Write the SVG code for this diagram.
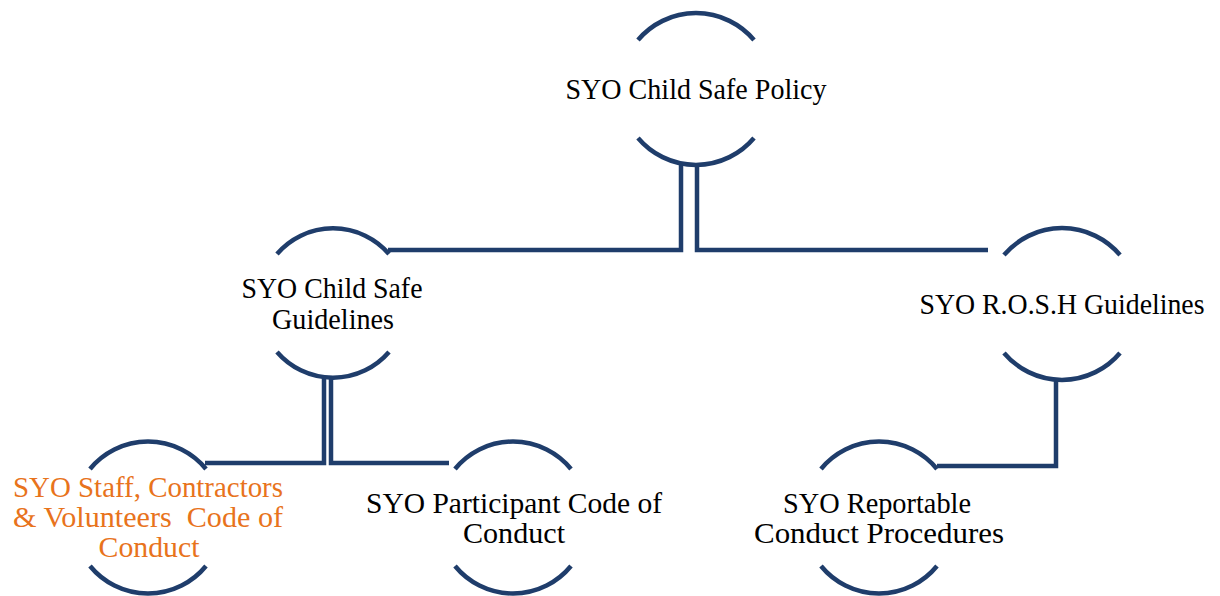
<svg xmlns="http://www.w3.org/2000/svg" width="1220" height="596" viewBox="0 0 1220 596">
<style>
.arc{fill:none;stroke:#1F3D6B;stroke-width:4.5}
.con{fill:none;stroke:#1F3D6B;stroke-width:4.5;stroke-linejoin:miter}
text{font-family:"Liberation Serif","Times New Roman",serif;font-size:29px;fill:#000;text-anchor:middle;white-space:pre}
.or{fill:#E8731C}
</style>
<rect width="1220" height="596" fill="#fff"/>
<g id="connectors">
<path class="con" d="M681,165 V250 H388"/>
<path class="con" d="M697,165 V250 H988"/>
<path class="con" d="M324,377 V463 H205"/>
<path class="con" d="M331,377 V463 H449"/>
<path class="con" d="M1056,380 V466 H937"/>
</g>
<g id="node-policy">
<path class="arc" d="M638,40 A76 76 0 0 1 754,40"/>
<path class="arc" d="M638,138 A76 76 0 0 0 754,138"/>
<text x="696" y="99" textLength="261" lengthAdjust="spacingAndGlyphs">SYO Child Safe Policy</text>
</g>
<g id="node-guidelines">
<path class="arc" d="M277,254 A74 74 0 0 1 389,254"/>
<path class="arc" d="M277,352 A74 74 0 0 0 389,352"/>
<text x="332" y="298" textLength="181" lengthAdjust="spacingAndGlyphs">SYO Child Safe</text>
<text x="333" y="329" textLength="122" lengthAdjust="spacingAndGlyphs">Guidelines</text>
</g>
<g id="node-rosh">
<path class="arc" d="M1004,255 A76 76 0 0 1 1120,255"/>
<path class="arc" d="M1004,353 A76 76 0 0 0 1120,353"/>
<text x="1062" y="314" textLength="285" lengthAdjust="spacingAndGlyphs">SYO R.O.S.H Guidelines</text>
</g>
<g id="node-staff">
<path class="arc" d="M90,469 A75 75 0 0 1 206,469"/>
<path class="arc" d="M90,566 A75 75 0 0 0 206,566"/>
<text class="or" x="148" y="497" textLength="270" lengthAdjust="spacingAndGlyphs">SYO Staff, Contractors</text>
<text class="or" x="148" y="527" textLength="270" lengthAdjust="spacingAndGlyphs">&amp; Volunteers  Code of</text>
<text class="or" x="149" y="557" textLength="101" lengthAdjust="spacingAndGlyphs">Conduct</text>
</g>
<g id="node-participant">
<path class="arc" d="M455,469 A75 75 0 0 1 571,469"/>
<path class="arc" d="M455,566 A75 75 0 0 0 571,566"/>
<text x="514" y="513" textLength="296" lengthAdjust="spacingAndGlyphs">SYO Participant Code of</text>
<text x="514" y="543" textLength="102" lengthAdjust="spacingAndGlyphs">Conduct</text>
</g>
<g id="node-reportable">
<path class="arc" d="M821,469 A75 75 0 0 1 937,469"/>
<path class="arc" d="M821,566 A75 75 0 0 0 937,566"/>
<text x="877" y="513" textLength="188" lengthAdjust="spacingAndGlyphs">SYO Reportable</text>
<text x="879" y="543" textLength="250" lengthAdjust="spacingAndGlyphs">Conduct Procedures</text>
</g>
</svg>
